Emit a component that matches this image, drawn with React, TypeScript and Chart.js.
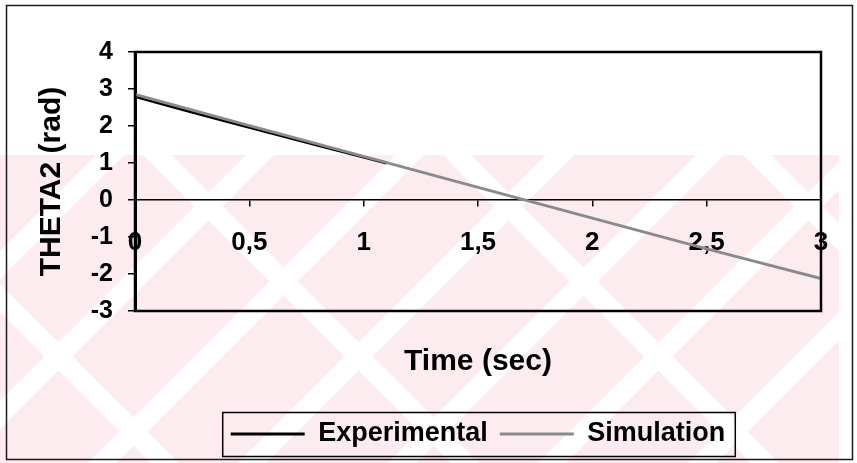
import React, { useEffect, useRef } from "react";
import { Chart, registerables } from "chart.js";
import type { Plugin, ChartConfiguration } from "chart.js";

Chart.register(...registerables);

// Measured angle of link 2 (short experimental record) and simulated angle
const expTime = [0, 0.2, 0.4, 0.6, 0.8, 1.0, 1.1];
const expTheta = [2.8, 2.46, 2.13, 1.8, 1.48, 1.16, 1.0];
const simTime = [0, 0.5, 1, 1.5, 2, 2.5, 3];
const simTheta = [2.85, 2.01, 1.18, 0.34, -0.49, -1.32, -2.12];

const seriesLabels = ["Experimental", "Simulation"];
const xAxisTitle = "Time (sec)";
const yAxisTitle = "THETA2 (rad)";

const X_MIN = 0;
const X_MAX = 3;
const X_STEP = 0.5;
const Y_MIN = -3;
const Y_MAX = 4;
const Y_STEP = 1;

const FAMILY = "'Liberation Sans', Arial, Helvetica, sans-serif";
const PINK = "rgb(253,236,239)";

const toPoints = (xs: number[], ys: number[]) => xs.map((x, i) => ({ x, y: ys[i] }));

// Faint crossed-stripe background band behind the lower half
const watermark: Plugin = {
  id: "watermark",
  beforeDraw(chart) {
    const { ctx, width, height } = chart;
    ctx.save();
    ctx.fillStyle = "#ffffff";
    ctx.fillRect(0, 0, width, height);
    const top = 155;
    const right = 839;
    ctx.beginPath();
    ctx.rect(0, top, right, height - top);
    ctx.clip();
    ctx.fillStyle = PINK;
    ctx.fillRect(0, top, right, height - top);
    ctx.fillStyle = "#ffffff";
    const half = 14;
    const span = height - top;
    const band = (xTop: number, dir: number) => {
      const xBot = xTop + dir * span;
      ctx.beginPath();
      ctx.moveTo(xTop - half, top);
      ctx.lineTo(xTop + half, top);
      ctx.lineTo(xBot + half, height);
      ctx.lineTo(xBot - half, height);
      ctx.closePath();
      ctx.fill();
    };
    for (let c = 560 - 150 * 4; c < 1300; c += 150) band(c, -1);
    for (let c = 457 - 300 * 2; c < 900; c += 300) band(c, 1);
    ctx.restore();
  },
};

// Center the legend under the plot area instead of the whole canvas
const centerLegend: Plugin = {
  id: "centerLegend",
  afterLayout(chart) {
    const lg: any = (chart as any).legend;
    if (!lg) return;
    const target = (chart.chartArea.left + chart.chartArea.right) / 2;
    const dx = target - (lg.left + lg.right) / 2;
    lg.left += dx;
    lg.right += dx;
  },
};

// Plot-area frame, outer border and legend box
const frames: Plugin = {
  id: "frames",
  afterDraw(chart) {
    const { ctx, chartArea: ca, width, height } = chart;
    ctx.save();
    ctx.strokeStyle = "#000";
    ctx.lineWidth = 2.5;
    ctx.strokeRect(ca.left, ca.top, ca.right - ca.left, ca.bottom - ca.top);

    ctx.lineWidth = 1.5;
    ctx.strokeStyle = "#1a1a1a";
    ctx.strokeRect(6.5, 5.5, width - 11, height - 9);

    const lg: any = (chart as any).legend;
    const boxes = lg?.legendHitBoxes || [];
    if (boxes.length) {
      const l = Math.min(...boxes.map((b: any) => b.left)) - 8;
      const r = Math.max(...boxes.map((b: any) => b.left + b.width)) + 10;
      const t = Math.min(...boxes.map((b: any) => b.top)) - 8;
      const b = Math.max(...boxes.map((bx: any) => bx.top + bx.height)) + 9;
      ctx.lineWidth = 1.5;
      ctx.strokeStyle = "#000";
      ctx.strokeRect(l, t, r - l, b - t);
    }
    ctx.restore();
  },
};

const boldFont = (size: number) => ({ family: FAMILY, size, weight: "bold" as const, lineHeight: 1 });

export default function App() {
  const ref = useRef<HTMLCanvasElement>(null);

  useEffect(() => {
    document.body.style.margin = "0";
    if (!ref.current) return;

    const config: ChartConfiguration<"line"> = {
      type: "line",
      data: {
        datasets: [
          {
            label: seriesLabels[0],
            data: toPoints(expTime, expTheta),
            xAxisID: "x",
            yAxisID: "y",
            borderColor: "#000000",
            backgroundColor: "#000000",
            borderWidth: 3,
            pointRadius: 0,
            tension: 0,
            order: 1,
          },
          {
            label: seriesLabels[1],
            data: toPoints(simTime, simTheta),
            xAxisID: "x",
            yAxisID: "y",
            borderColor: "#8a8a8a",
            backgroundColor: "#8a8a8a",
            borderWidth: 3,
            pointRadius: 0,
            tension: 0,
            order: 0,
          },
        ],
      },
      options: {
        responsive: true,
        maintainAspectRatio: false,
        animation: false,
        layout: { padding: { left: 6, right: 36, top: 52, bottom: 5.5 } },
        plugins: {
          tooltip: { enabled: false },
          legend: {
            position: "bottom",
            reverse: true,
            labels: {
              color: "#000",
              font: boldFont(27),
              boxWidth: 74,
              boxHeight: 3,
              padding: 12,
              generateLabels: (chart) =>
                Chart.defaults.plugins.legend.labels
                  .generateLabels(chart)
                  .map((item) => ({ ...item, lineWidth: 0, fillStyle: item.strokeStyle })),
            },
          },
        },
        scales: {
          x: {
            type: "linear",
            position: { y: 0 } as any,
            min: X_MIN,
            max: X_MAX,
            ticks: {
              stepSize: X_STEP,
              autoSkip: false,
              maxRotation: 0,
              color: "#000",
              font: boldFont(26),
              padding: 24,
              callback: (v) => String(v).replace(".", ","),
            },
            grid: { drawOnChartArea: false, drawTicks: true, tickLength: 6, color: "#000", lineWidth: 1.5 },
            border: { display: true, color: "#000", width: 1.5 },
          },
          xTitle: {
            type: "linear",
            axis: "x",
            position: "bottom",
            display: true,
            ticks: { display: false },
            grid: { display: false, drawTicks: false },
            border: { display: false },
            title: {
              display: true,
              text: xAxisTitle,
              color: "#000",
              font: boldFont(30),
              padding: { top: 36, bottom: 31.5 },
            },
          },
          y: {
            type: "linear",
            position: "left",
            min: Y_MIN,
            max: Y_MAX,
            ticks: {
              stepSize: Y_STEP,
              color: "#000",
              font: boldFont(25),
              padding: 15,
              callback: (v) => String(v),
            },
            grid: { drawOnChartArea: false, drawTicks: true, tickLength: 7, color: "#000", lineWidth: 1.5 },
            border: { display: true, color: "#000", width: 3 },
            title: {
              display: true,
              text: yAxisTitle,
              color: "#000",
              font: boldFont(30),
              padding: { top: 31, bottom: 0 },
            },
            afterFit: (scale) => {
              scale.width = 129;
            },
          },
        } as any,
      },
      plugins: [watermark, centerLegend, frames],
    };

    const chart = new Chart(ref.current, config);
    return () => chart.destroy();
  }, []);

  return (
    <div style={{ position: "relative", width: 857, height: 463 }}>
      <canvas ref={ref} />
    </div>
  );
}
